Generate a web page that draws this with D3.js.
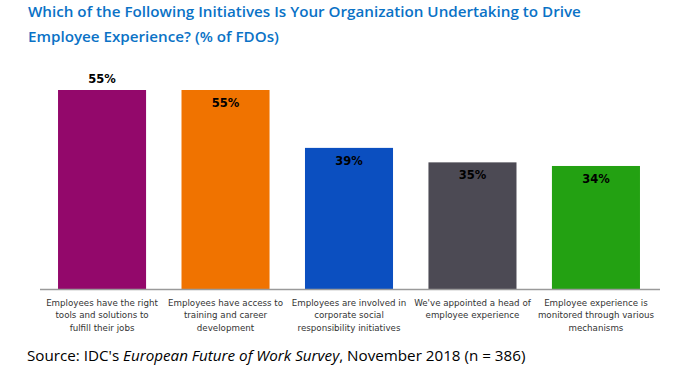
<!DOCTYPE html>
<html>
<head>
<meta charset="utf-8">
<script src="https://cdn.jsdelivr.net/npm/d3@7"></script>
<style>
  body { margin: 0; background: #fff; }
</style>
</head>
<body>
<div id="chart"></div>
<script>
// data
const categories = [
  ["Employees have the right", "tools and solutions to", "fulfill their jobs"],
  ["Employees have access to", "training and career", "development"],
  ["Employees are involved in", "corporate social", "responsibility initiatives"],
  ["We've appointed a head of", "employee experience"],
  ["Employee experience is", "monitored through various", "mechanisms"]
];
const values = [55, 55, 39, 35, 34];
const colors = ["#93086b", "#f07300", "#0b4fc0", "#4c4a54", "#23a112"];
const labelInside = [false, true, true, true, true];

const w = 680, h = 366;
const baseY = 289;

const svg = d3.select("#chart").append("svg")
  .attr("width", w).attr("height", h);

// x scale over categories
const x = d3.scaleBand()
  .domain(d3.range(values.length))
  .range([40, 658])
  .paddingInner(0.287)
  .paddingOuter(0.146);

const y = d3.scaleLinear()
  .domain([0, 55])
  .range([baseY, 90]);

// bars
svg.selectAll("rect.bar")
  .data(values)
  .enter().append("rect")
  .attr("class", "bar")
  .attr("x", (d, i) => x(i))
  .attr("y", d => y(d))
  .attr("width", x.bandwidth())
  .attr("height", d => baseY - y(d))
  .attr("fill", (d, i) => colors[i]);

// value labels
svg.selectAll("text.val")
  .data(values)
  .enter().append("text")
  .attr("class", "val")
  .attr("x", (d, i) => x(i) + x.bandwidth() / 2)
  .attr("y", (d, i) => labelInside[i] ? y(d) + 17 : y(d) - 7)
  .attr("text-anchor", "middle")
  .attr("font-family", "DejaVu Sans")
  .attr("font-weight", "bold")
  .attr("font-size", "11.5px")
  .attr("fill", "#000")
  .text(d => d + "%");

// axis line
svg.append("line")
  .attr("x1", 40).attr("x2", 660)
  .attr("y1", baseY + 0.5).attr("y2", baseY + 0.5)
  .attr("stroke", "#9a9a9a")
  .attr("stroke-width", 1.5);

// category labels
const cat = svg.selectAll("text.cat")
  .data(categories)
  .enter().append("text")
  .attr("class", "cat")
  .attr("text-anchor", "middle")
  .attr("font-family", "DejaVu Sans")
  .attr("font-size", "8.7px")
  .attr("fill", "#333");

cat.selectAll("tspan")
  .data((d, i) => d.map(s => ({ s: s, i: i })))
  .enter().append("tspan")
  .attr("x", d => x(d.i) + x.bandwidth() / 2)
  .attr("y", (d, j) => 306 + j * 12.3)
  .text(d => d.s);

// title
const title = svg.append("text")
  .attr("font-family", "Open Sans")
  .attr("font-weight", 600)
  .attr("font-size", "15.2px")
  .attr("fill", "#0a72c6");
title.append("tspan").attr("x", 28).attr("y", 17)
  .text("Which of the Following Initiatives Is Your Organization Undertaking to Drive");
title.append("tspan").attr("x", 28).attr("y", 42)
  .text("Employee Experience? (% of FDOs)");

// source
const src = svg.append("text")
  .attr("x", 27).attr("y", 361)
  .attr("font-family", "Open Sans")
  .attr("font-size", "15.2px")
  .attr("fill", "#000");
src.append("tspan").text("Source: IDC's ");
src.append("tspan").attr("font-style", "italic").text("European Future of Work Survey");
src.append("tspan").text(", November 2018 (n = 386)");
</script>
</body>
</html>
